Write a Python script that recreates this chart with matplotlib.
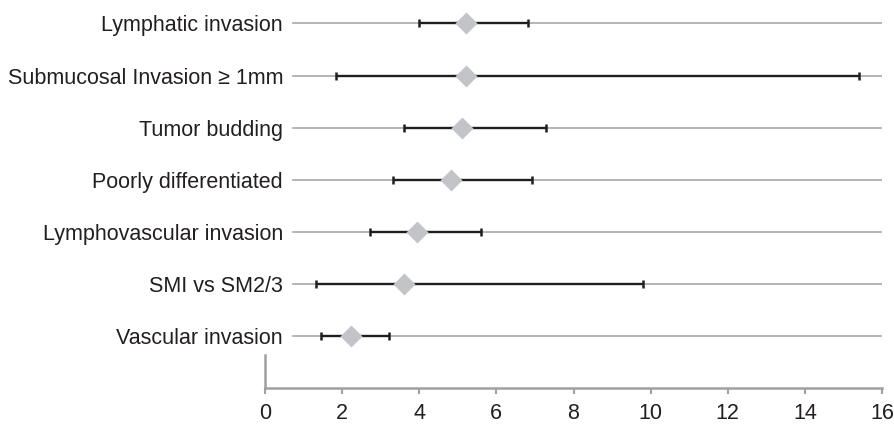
import matplotlib.pyplot as plt
import numpy as np

plt.rcParams["font.family"] = ["Liberation Sans", "DejaVu Sans"]

# rows listed bottom to top
labels = [
    "Vascular invasion",
    "SMI vs SM2/3",
    "Lymphovascular invasion",
    "Poorly differentiated",
    "Tumor budding",
    "Submucosal Invasion \u2265 1mm",
    "Lymphatic invasion",
]
estimate = [2.22, 3.61, 3.93, 4.82, 5.12, 5.21, 5.21]
lower = [1.44, 1.32, 2.71, 3.31, 3.61, 1.83, 4.00]
upper = [3.22, 9.80, 5.61, 6.92, 7.29, 15.41, 6.81]
xticks = [0, 2, 4, 6, 8, 10, 12, 14, 16]

TEXT = "#231f20"
AXIS = "#a0a0a0"

fig = plt.figure(figsize=(8.95, 4.26), dpi=100)
ax = fig.add_axes([265 / 895, 38 / 426, 617 / 895, 388 / 426])

rows = np.arange(1, len(labels) + 1)
est = np.array(estimate)
err = [est - np.array(lower), np.array(upper) - est]

for r in rows:
    ax.axhline(r, xmin=0.045, xmax=1.0, color="#a8a8a8", lw=1.2, zorder=1)

ax.errorbar(est, rows, xerr=err, fmt="none", ecolor="#1e1e1e",
            elinewidth=1.7, capsize=3.0, capthick=1.8, zorder=2)
ax.plot(est, rows, "D", ms=11.5, color="#c3c4c7", mec="none", zorder=3)

ax.set_xlim(0, 16)
ax.set_ylim(0, 7.45)
ax.set_xticks(xticks)
ax.set_xticklabels([str(t) for t in xticks], fontsize=15.5, color=TEXT)
ax.set_yticks(rows)
ax.set_yticklabels(labels, fontsize=15.5, color=TEXT)
ax.tick_params(axis="y", length=0, pad=-13)
ax.tick_params(axis="x", length=4, width=1.5, color=AXIS, pad=7)

for side in ["top", "right"]:
    ax.spines[side].set_visible(False)
ax.spines["bottom"].set_color(AXIS)
ax.spines["bottom"].set_linewidth(1.8)
ax.spines["left"].set_color(AXIS)
ax.spines["left"].set_linewidth(1.8)
ax.spines["left"].set_bounds(0, 0.63)

fig.savefig("out.png", dpi=100)
